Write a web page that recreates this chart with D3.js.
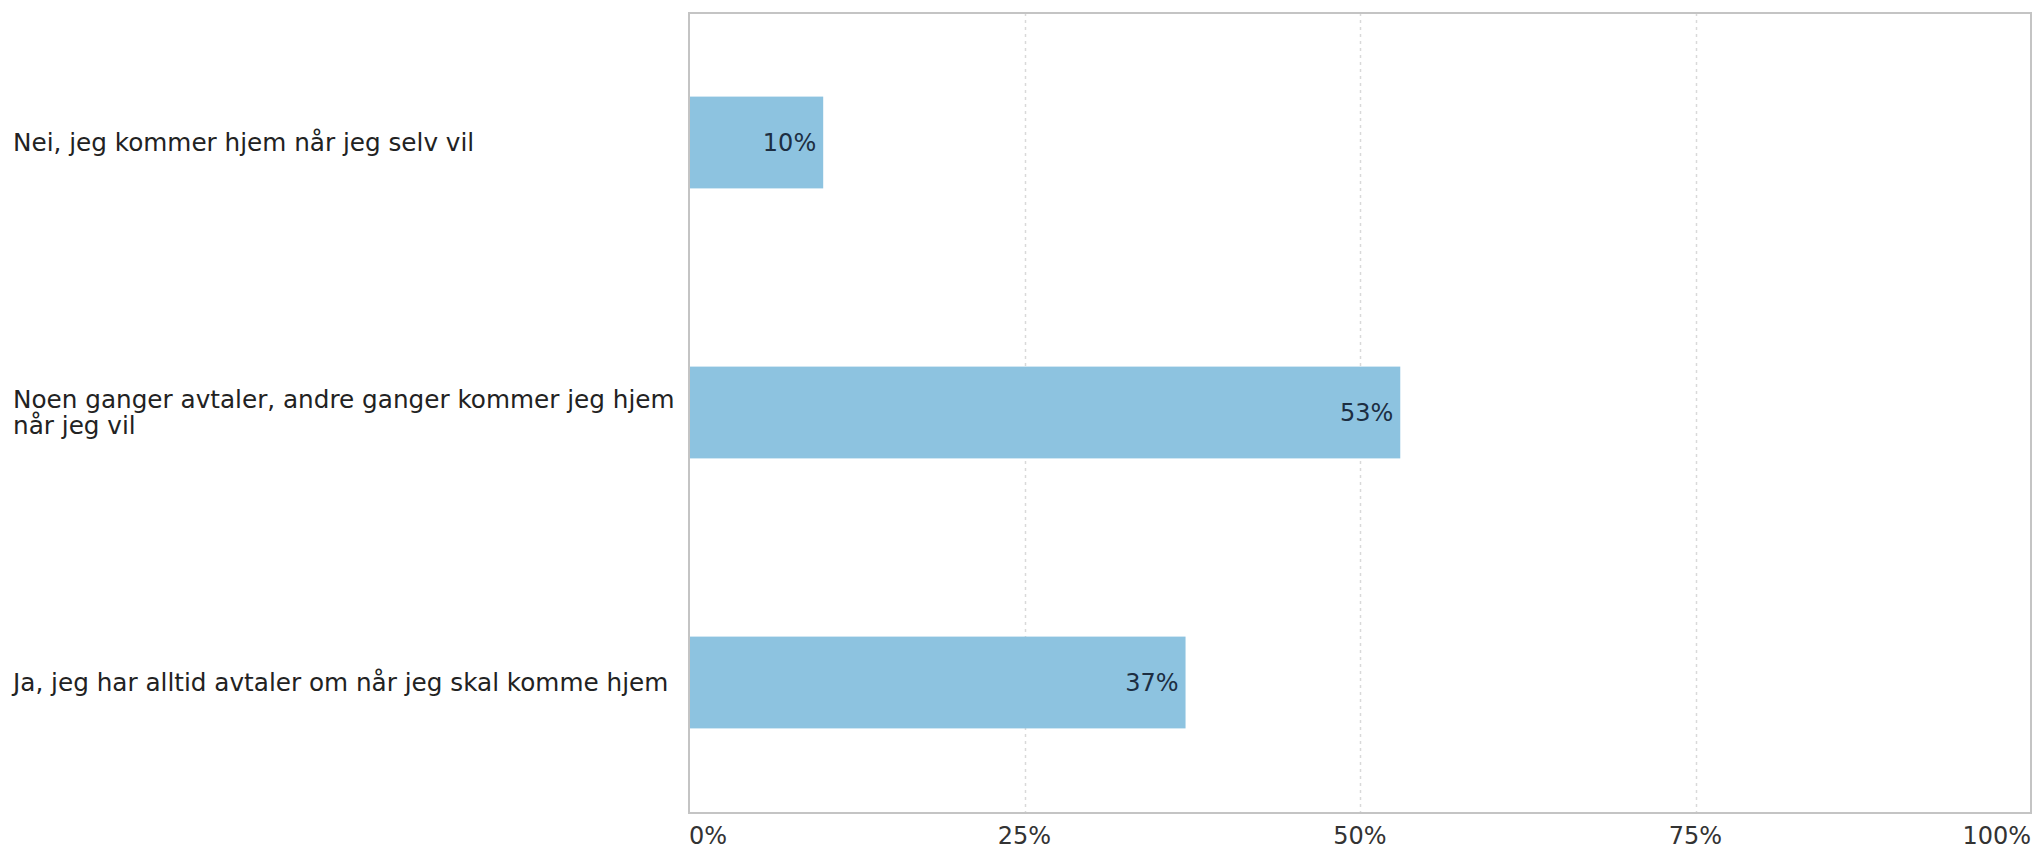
<!DOCTYPE html>
<html><head><meta charset="utf-8">
<script src="https://cdn.jsdelivr.net/npm/d3@7"></script>
<style>html,body{margin:0;padding:0;background:#fff;overflow:hidden}</style>
</head><body>
<script>
const categories = [
  ["Nei, jeg kommer hjem når jeg selv vil"],
  ["Noen ganger avtaler, andre ganger kommer jeg hjem", "når jeg vil"],
  ["Ja, jeg har alltid avtaler om når jeg skal komme hjem"]
];
const values = [10, 53, 37];
const tickValues = [0, 25, 50, 75, 100];
const tickLabels = ["0%", "25%", "50%", "75%", "100%"];

(function(){
const W = 2036, H = 852;
const pL = 689, pR = 2031, pT = 13, pB = 813;
const svg = d3.select("body").append("svg").attr("width", W).attr("height", H)
  .style("font-family", "'DejaVu Sans', Verdana, sans-serif");

const x = d3.scaleLinear().domain([0, 100]).range([pL, pR]);
const keys = categories.map((c, i) => i);
const y = d3.scaleBand().domain(keys).range([7.5, 817.5]).paddingInner(0.66).paddingOuter(0.33);

// gridlines
svg.append("g").selectAll("line").data(tickValues.slice(1, -1)).join("line")
  .attr("x1", d => Math.round(x(d)) + 0.5).attr("x2", d => Math.round(x(d)) + 0.5)
  .attr("y1", pT).attr("y2", pB)
  .attr("stroke", "#d9d9d9").attr("stroke-width", 1.5).attr("stroke-dasharray", "3,4");

// bars
svg.append("g").selectAll("rect").data(values).join("rect")
  .attr("x", x(0)).attr("y", (d, i) => y(i))
  .attr("width", d => x(d) - x(0)).attr("height", y.bandwidth())
  .attr("fill", "#8dc3e0");

// frame
svg.append("rect").attr("x", pL).attr("y", pT).attr("width", pR - pL).attr("height", pB - pT)
  .attr("fill", "none").attr("stroke", "#c4c4c4").attr("stroke-width", 2);

// value labels
svg.append("g").selectAll("text").data(values).join("text")
  .attr("x", d => x(d) - 7).attr("y", (d, i) => y(i) + y.bandwidth() / 2)
  .attr("dy", "0.35em").attr("text-anchor", "end")
  .attr("font-size", 24).attr("fill", "#1c2e42")
  .text(d => d + "%");

// category labels
const cat = svg.append("g").selectAll("text").data(categories).join("text")
  .attr("x", 13).attr("font-size", 24.7).attr("fill", "#222");
cat.each(function(lines, i) {
  const t = d3.select(this);
  const cy = y(i) + y.bandwidth() / 2;
  const lh = 26;
  lines.forEach((ln, j) => {
    t.append("tspan").attr("x", 13)
      .attr("y", cy + (j - (lines.length - 1) / 2) * lh)
      .attr("dy", "0.35em").text(ln);
  });
});

// x axis tick labels
svg.append("g").selectAll("text").data(tickValues).join("text")
  .attr("x", d => x(d))
  .attr("y", 836).attr("dy", "0.35em")
  .attr("text-anchor", (d, i) => i === 0 ? "start" : (i === tickValues.length - 1 ? "end" : "middle"))
  .attr("font-size", 24).attr("fill", "#333")
  .text((d, i) => tickLabels[i]);
})();
</script>
</body></html>
